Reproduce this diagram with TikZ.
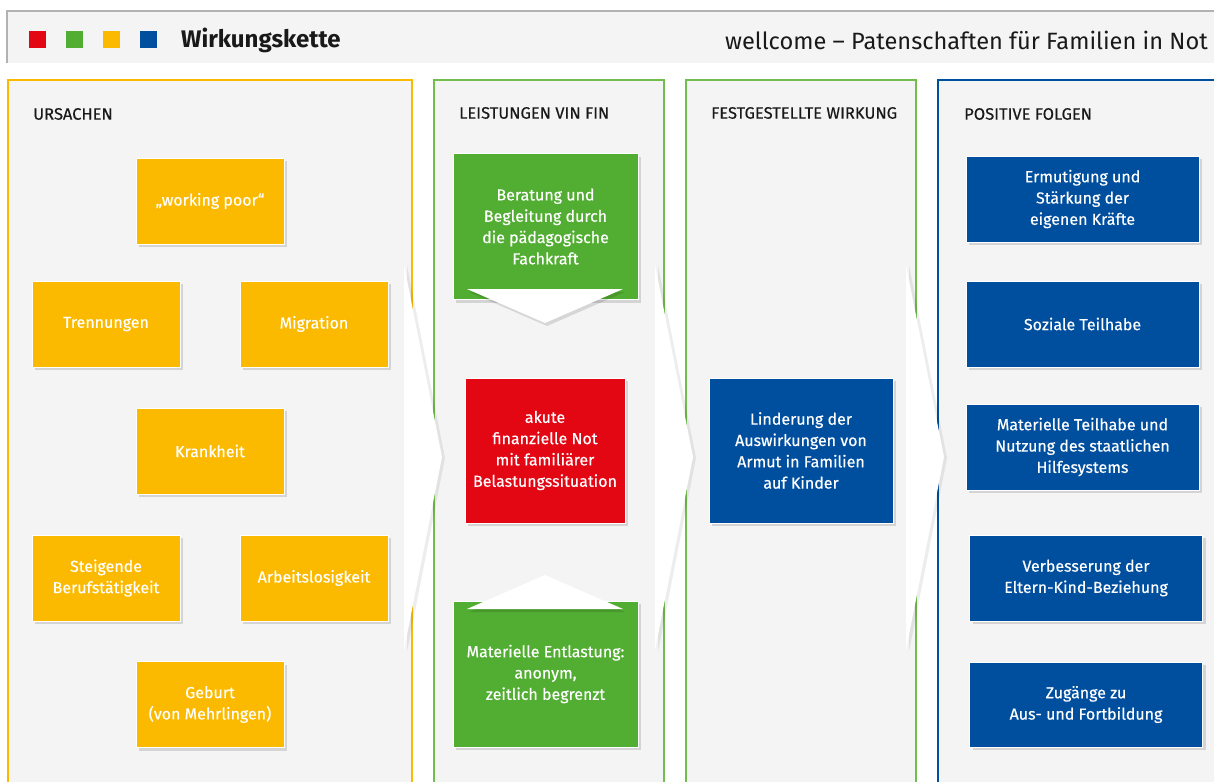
\documentclass[tikz,border=0pt]{standalone}
\usepackage{fontspec}
\setmainfont{Fira Sans}
\newfontfamily\medfont{Fira Sans}[FakeBold=0.35]
\usepackage{tikz}
\usetikzlibrary{shadows}
\definecolor{wkred}{rgb}{0.890,0.024,0.075}
\definecolor{wkgreen}{rgb}{0.322,0.682,0.196}
\definecolor{wkgreenline}{rgb}{0.45,0.74,0.30}
\definecolor{wkorange}{rgb}{0.984,0.729,0.0}
\definecolor{wkblue}{rgb}{0.0,0.310,0.624}
\definecolor{wkbg}{rgb}{0.957,0.957,0.957}
\definecolor{wkgray}{rgb}{0.70,0.70,0.70}
\definecolor{wktext}{rgb}{0.10,0.10,0.10}

\begin{document}
\begin{tikzpicture}[x=1pt,y=-1pt,line join=miter,
  card/.style={draw=white,line width=1pt,inner sep=0pt,outer sep=0pt,text=white,align=center,
    font=\medfont\fontsize{16}{21.3}\selectfont,minimum width=148pt,minimum height=86pt,
    drop shadow={shadow xshift=3pt,shadow yshift=-3pt,fill=black,opacity=0.13}},
  ucard/.style={card,fill=wkorange},
  lcard/.style={card,fill=wkgreen,minimum width=185pt,minimum height=146pt},
  bcard/.style={card,fill=wkblue,minimum width=233pt},
  coltitle/.style={anchor=west,text=wktext,inner sep=0pt,font=\medfont\fontsize{16.5}{18}\selectfont},
  chevron/.style={fill=white},
  chevshade/.style={fill=black,opacity=0.07}]
\useasboundingbox (0,0) rectangle (1214,781);
\clip (0,0) rectangle (1214,781);
\fill[white] (0,0) rectangle (1214,781);
\fill[wkbg] (7,11) rectangle (1214,63);
\draw[wkgray,line width=1.5pt] (7,63) -- (7,11) -- (1214,11);
\fill[wkred] (29,31) rectangle (46,48);
\fill[wkgreen] (66,31) rectangle (83,48);
\fill[wkorange] (103,31) rectangle (120,48);
\fill[wkblue] (140,31) rectangle (157,48);
\node[anchor=west,inner sep=0pt,text=wktext,font=\fontsize{24}{27}\selectfont\bfseries] (kette) at (181,40) {Wirkungskette};
\node[anchor=east,inner sep=0pt,text=wktext,font=\fontsize{23.6}{26}\selectfont] (projekt) at (1208,40) {wellcome -- Patenschaften für Familien in Not};

\draw[wkorange,line width=1.5pt,fill=wkbg] (8,80) rectangle (412,800);
\draw[wkgreenline,line width=1.5pt,fill=wkbg] (434,80) rectangle (664,800);
\draw[wkgreenline,line width=1.5pt,fill=wkbg] (686,80) rectangle (916,800);
\draw[wkblue,line width=1.5pt,fill=wkbg] (938,80) rectangle (1230,800);

\node[coltitle] (ursachen) at (33,114) {URSACHEN};
\node[coltitle] (leistungen) at (459,113) {LEISTUNGEN VIN FIN};
\node[coltitle] (wirkung) at (711,113) {FESTGESTELLTE WIRKUNG};
\node[coltitle] (folgen) at (964,114) {POSITIVE FOLGEN};

\foreach \xa in {404,655,906}{
  \fill[chevshade] (\xa+3,265) -- (\xa+41,458) -- (\xa+3,652) -- cycle;
  \fill[chevron] (\xa,265) -- (\xa+38,457) -- (\xa,650) -- cycle;
}

\node[ucard] (working) at (210,201) {„working poor“};
\node[ucard] (trennung) at (106,324) {Trennungen};
\node[ucard] (migration) at (314,324) {Migration};
\node[ucard] (krankheit) at (210,451) {Krankheit};
\node[ucard] (steigend) at (106,578) {Steigende\\Berufstätigkeit};
\node[ucard] (arbeitslos) at (314,578) {Arbeitslosigkeit};
\node[ucard] (geburt) at (210,704.5) {Geburt\\(von Mehrlingen)};

\node[lcard] (beratung) at (545.5,226.5) {Beratung und\\Begleitung durch\\die pädagogische\\Fachkraft};
\node[card,fill=wkred,minimum width=160pt,minimum height=145pt] (notlage) at (545,450.5) {akute\\finanzielle Not\\mit familiärer\\Belastungssituation};
\node[lcard] (entlastung) at (545.5,674) {Materielle Entlastung:\\anonym,\\zeitlich begrenzt};

\fill[black,opacity=0.12] (469,292) -- (625,292) -- (547,326) -- cycle;
\fill[white] (467,289) -- (623,289) -- (545,323) -- cycle;
\fill[black,opacity=0.12] (469,612) -- (625,612) -- (547,578) -- cycle;
\fill[white] (467,609) -- (623,609) -- (545,575) -- cycle;

\node[card,fill=wkblue,minimum width=184pt,minimum height=145pt] (linderung) at (801,450.5) {Linderung der\\Auswirkungen von\\Armut in Familien\\auf Kinder};

\node[bcard] (ermutigung) at (1082.5,199) {Ermutigung und\\Stärkung der\\eigenen Kräfte};
\node[bcard] (teilhabe) at (1082.5,324) {Soziale Teilhabe};
\node[bcard] (materiell) at (1082.5,447) {Materielle Teilhabe und\\Nutzung des staatlichen\\Hilfesystems};
\node[bcard] (beziehung) at (1086,578) {Verbesserung der\\Eltern-Kind-Beziehung};
\node[bcard,minimum height=85pt] (bildung) at (1086,704.5) {Zugänge zu\\Aus- und Fortbildung};
\end{tikzpicture}
\end{document}
